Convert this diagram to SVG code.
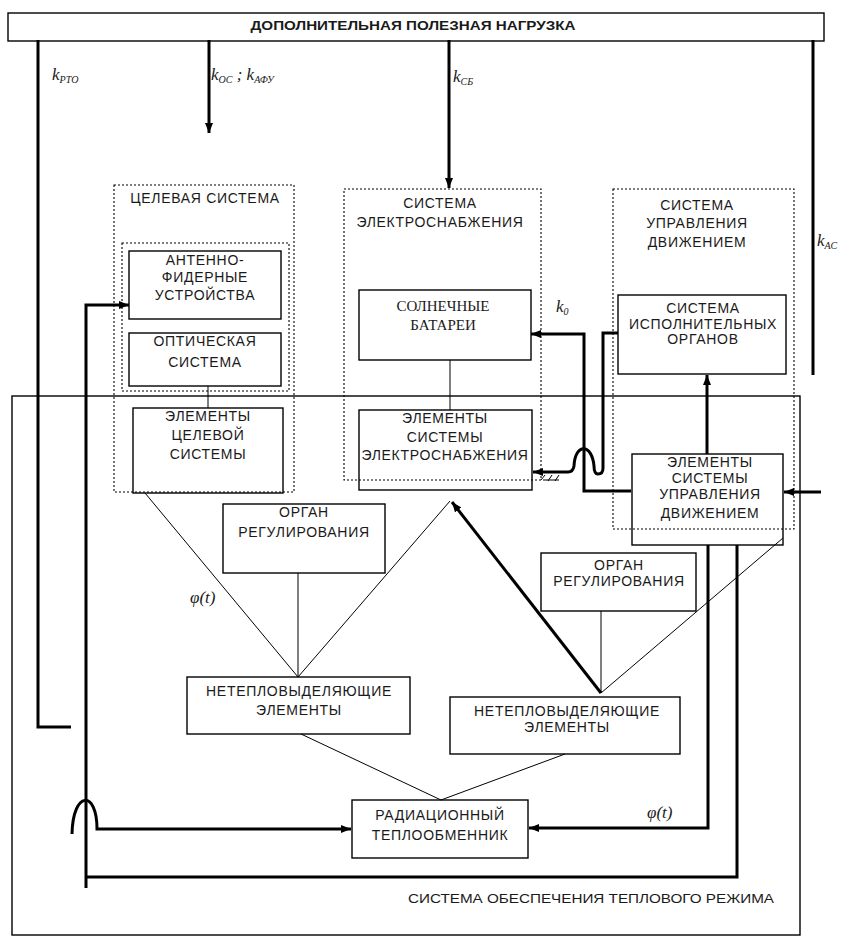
<svg xmlns="http://www.w3.org/2000/svg" width="844" height="940" viewBox="0 0 844 940">
<style>
.box{fill:none;stroke:#000;stroke-width:1.4}
.dot{fill:none;stroke:#000;stroke-width:1.1;stroke-dasharray:2 2}
.thick{fill:none;stroke:#000;stroke-width:3}
.thin{fill:none;stroke:#000;stroke-width:1}
.t{font-family:"Liberation Sans",Arial,sans-serif;font-size:14px;letter-spacing:0.7px;fill:#1a1a1a;text-anchor:middle;dominant-baseline:central}
.ts{font-family:"Liberation Serif","Times New Roman",serif;font-size:15px;fill:#1a1a1a;text-anchor:middle;dominant-baseline:central}
.k{font-family:"Liberation Serif","Times New Roman",serif;font-style:italic;font-size:17px;fill:#1a1a1a}
.sub{font-size:10px}
.n{font-family:"Liberation Sans Narrow","Liberation Sans",Arial,sans-serif;font-size:13px;fill:#1a1a1a}
</style>
<defs>
<marker id="ar" viewBox="0 0 10 8" refX="10" refY="4" markerWidth="10" markerHeight="8" markerUnits="userSpaceOnUse" orient="auto">
<path d="M0,0 L10,4 L0,8 z" fill="#000"/>
</marker>
</defs>
<rect width="844" height="940" fill="#fff"/>

<g id="payload">
<rect class="box" x="8" y="13" width="816" height="28"/>
<text class="n" x="413" y="30" text-anchor="middle" font-weight="bold" textLength="325" lengthAdjust="spacingAndGlyphs">ДОПОЛНИТЕЛЬНАЯ ПОЛЕЗНАЯ НАГРУЗКА</text>
</g>

<g id="thermal">
<rect class="box" x="12" y="396" width="788" height="539"/>
<text class="n" x="591" y="903" text-anchor="middle" textLength="366" lengthAdjust="spacingAndGlyphs">СИСТЕМА ОБЕСПЕЧЕНИЯ ТЕПЛОВОГО РЕЖИМА</text>
</g>

<g id="target-system">
<rect class="dot" x="114" y="185" width="180" height="307"/>
<text class="t" x="205" y="198">ЦЕЛЕВАЯ  СИСТЕМА</text>
<rect class="dot" x="122" y="243" width="167" height="148"/>
</g>
<g id="afu">
<rect class="box" x="129" y="251" width="152" height="68"/>
<text class="t" x="205" y="260">АНТЕННО-</text>
<text class="t" x="205" y="277">ФИДЕРНЫЕ</text>
<text class="t" x="205" y="295">УСТРОЙСТВА</text>
</g>
<g id="optical">
<rect class="box" x="129" y="333" width="152" height="53"/>
<text class="t" x="205" y="341">ОПТИЧЕСКАЯ</text>
<text class="t" x="205" y="362">СИСТЕМА</text>
</g>
<g id="target-elements">
<rect class="box" x="133" y="408" width="150" height="85"/>
<text class="t" x="208" y="416">ЭЛЕМЕНТЫ</text>
<text class="t" x="208" y="435">ЦЕЛЕВОЙ</text>
<text class="t" x="208" y="454">СИСТЕМЫ</text>
</g>

<g id="power-system">
<rect class="dot" x="344" y="189" width="197" height="291"/>
<text class="t" x="440" y="203">СИСТЕМА</text>
<text class="t" x="440" y="222">ЭЛЕКТРОСНАБЖЕНИЯ</text>
</g>
<g id="solar">
<rect class="box" x="359" y="290" width="172" height="70"/>
<text class="ts" x="443" y="306">СОЛНЕЧНЫЕ</text>
<text class="ts" x="443" y="325">БАТАРЕИ</text>
</g>
<g id="power-elements">
<rect class="box" x="359" y="410" width="173" height="80"/>
<text class="t" x="445" y="418">ЭЛЕМЕНТЫ</text>
<text class="t" x="445" y="437">СИСТЕМЫ</text>
<text class="t" x="445" y="455">ЭЛЕКТРОСНАБЖЕНИЯ</text>
</g>

<g id="motion-system">
<rect class="dot" x="613" y="189" width="181" height="340"/>
<text class="t" x="697" y="205">СИСТЕМА</text>
<text class="t" x="697" y="223">УПРАВЛЕНИЯ</text>
<text class="t" x="697" y="242">ДВИЖЕНИЕМ</text>
</g>
<g id="actuators">
<rect class="box" x="618" y="295" width="168" height="79"/>
<text class="t" x="703" y="308" font-size="12" letter-spacing="0.2">СИСТЕМА</text>
<text class="t" x="703" y="324" font-size="12" letter-spacing="0.2">ИСПОЛНИТЕЛЬНЫХ</text>
<text class="t" x="703" y="339" font-size="12" letter-spacing="0.2">ОРГАНОВ</text>
</g>
<g id="motion-elements">
<rect class="box" x="632" y="454" width="151" height="91"/>
<text class="t" x="710" y="462">ЭЛЕМЕНТЫ</text>
<text class="t" x="710" y="478">СИСТЕМЫ</text>
<text class="t" x="710" y="494">УПРАВЛЕНИЯ</text>
<text class="t" x="710" y="513">ДВИЖЕНИЕМ</text>
</g>

<g id="regulator-left">
<rect class="box" x="223" y="504" width="162" height="69"/>
<text class="t" x="304" y="512">ОРГАН</text>
<text class="t" x="304" y="532">РЕГУЛИРОВАНИЯ</text>
</g>
<g id="nte-left">
<rect class="box" x="187" y="677" width="223" height="57"/>
<text class="t" x="299" y="691">НЕТЕПЛОВЫДЕЛЯЮЩИЕ</text>
<text class="t" x="299" y="710">ЭЛЕМЕНТЫ</text>
</g>
<g id="regulator-right">
<rect class="box" x="541" y="553" width="155" height="58"/>
<text class="t" x="619" y="565">ОРГАН</text>
<text class="t" x="619" y="581">РЕГУЛИРОВАНИЯ</text>
</g>
<g id="nte-right">
<rect class="box" x="450" y="697" width="230" height="57"/>
<text class="t" x="567" y="711">НЕТЕПЛОВЫДЕЛЯЮЩИЕ</text>
<text class="t" x="567" y="727">ЭЛЕМЕНТЫ</text>
</g>
<g id="radiator">
<rect class="box" x="352" y="800" width="176" height="58"/>
<text class="t" x="440" y="815">РАДИАЦИОННЫЙ</text>
<text class="t" x="440" y="835">ТЕПЛООБМЕННИК</text>
</g>

<g id="connectors">
<path class="thick" d="M38 40 V727 H71"/>
<path class="thick" d="M209 40 V133" marker-end="url(#ar)"/>
<path class="thick" d="M449 40 V188" marker-end="url(#ar)"/>
<path class="thick" d="M813 40 V375"/>
<path class="thick" d="M86 888 V305 H129" marker-end="url(#ar)"/>
<path class="thick" d="M737 545 V877 H86"/>
<path class="thick" d="M708 545 V828 H529" marker-end="url(#ar)"/>
<path class="thick" d="M72 834 C73 790 97 790 97 829 H351" marker-end="url(#ar)"/>
<path class="thick" d="M631 491 H584 V334 H531" marker-end="url(#ar)"/>
<path class="thick" d="M618 333 H603 V468 Q603 474 598 474 Q594 474 594 466 C592 443 575 443 574 466 Q573 472 568 472 H533" marker-end="url(#ar)"/>
<path class="thin" d="M541 480 l4 -5 M548 481 l4 -6 M555 481 l4 -6 M543 480 h16" stroke-width="0.8"/>
<path class="thick" d="M707 454 V375" marker-end="url(#ar)"/>
<path class="thick" d="M821 492 H784" marker-end="url(#ar)"/>
<path class="thin" d="M208 386 V408"/>
<path class="thin" d="M450 360 V410"/>
<path class="thin" d="M145 493 L298 677 L450 501"/>
<path class="thin" d="M298 573 V677"/>
<path class="thick" d="M601 693 L452 502" marker-end="url(#ar)"/>
<path class="thin" d="M601 611 V693 L783 538"/>
<path class="thin" d="M301 734 L441 800 L565 754"/>
<text class="k" x="52" y="80">k<tspan class="sub" dy="3">РТО</tspan></text>
<text class="k" x="211" y="80">k<tspan class="sub" dy="3">ОС</tspan><tspan dy="-3"> ; k</tspan><tspan class="sub" dy="3">АФУ</tspan></text>
<text class="k" x="453" y="82">k<tspan class="sub" dy="3">СБ</tspan></text>
<text class="k" x="817" y="246">k<tspan class="sub" dy="3">АС</tspan></text>
<text class="k" x="556" y="312">k<tspan class="sub" dy="3">0</tspan></text>
<text class="k" x="190" y="603">φ(t)</text>
<text class="k" x="647" y="818">φ(t)</text>
</g>
</svg>
